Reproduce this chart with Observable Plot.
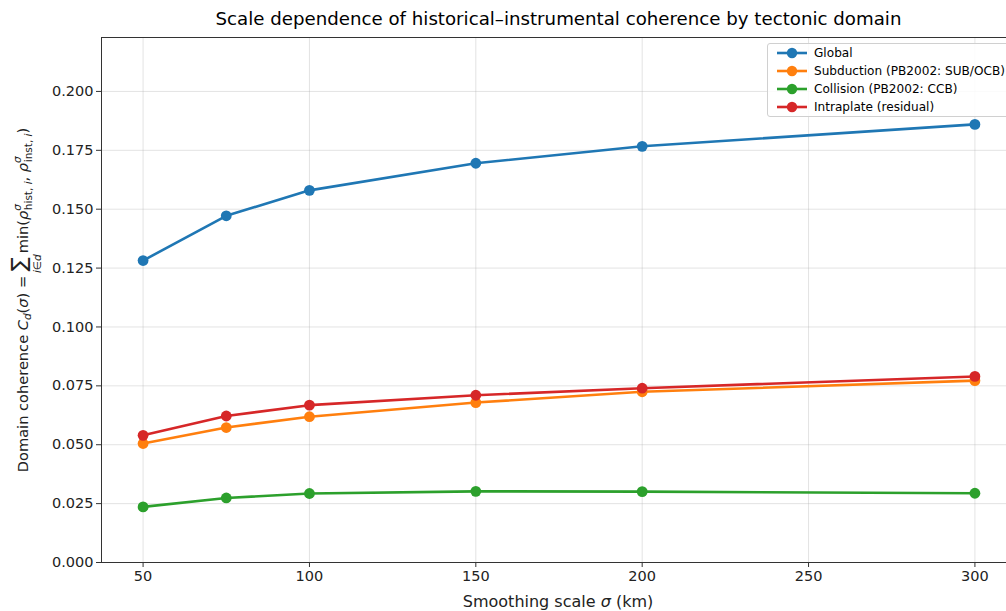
<!DOCTYPE html>
<html><head><meta charset="utf-8">
<script src="https://cdn.jsdelivr.net/npm/d3@7"></script>
<script src="https://cdn.jsdelivr.net/npm/@observablehq/plot@0.6"></script>
<style>
body{margin:0;overflow:hidden;background:#fff;font-family:"DejaVu Sans",sans-serif;}
#wrap{position:relative;width:1006px;height:611px;overflow:hidden;}
#chart svg{max-width:none !important;}
#title{position:absolute;left:101px;width:915px;top:8px;text-align:center;font-size:18.2px;color:#000;white-space:nowrap;}
#legend{position:absolute;left:767px;top:43px;width:260px;height:72px;border:1px solid #d0d0d0;border-radius:3px;background:rgba(255,255,255,0.85);font-size:12.1px;}
.li{position:absolute;left:8px;height:16px;display:flex;align-items:center;}
.li svg{margin-right:6px;}
</style></head>
<body><div id="wrap"><div id="chart"></div><div id="title">Scale dependence of historical–instrumental coherence by tectonic domain</div><div id="legend"></div></div>
<script>
const sigma = [50, 75, 100, 150, 200, 300];
const seriesNames = ["Global", "Subduction (PB2002: SUB/OCB)", "Collision (PB2002: CCB)", "Intraplate (residual)"];
const colors = ["#1f77b4", "#ff7f0e", "#2ca02c", "#d62728"];
const globalVals = [0.1282, 0.1472, 0.1580, 0.1695, 0.1767, 0.1860];
const subductionVals = [0.0505, 0.0573, 0.0619, 0.0679, 0.0725, 0.0772];
const collisionVals = [0.0236, 0.0274, 0.0293, 0.0302, 0.0301, 0.0294];
const intraplateVals = [0.0540, 0.0622, 0.0668, 0.0710, 0.0740, 0.0790];
const xTicks = [50, 100, 150, 200, 250, 300];
const yTicks = [0, 0.025, 0.05, 0.075, 0.1, 0.125, 0.15, 0.175, 0.2];

const allVals = [globalVals, subductionVals, collisionVals, intraplateVals];
const data = [];
seriesNames.forEach((s, i) => sigma.forEach((x, j) => data.push({series: s, x, y: allVals[i][j]})));

const marks = [
  Plot.gridX(xTicks, {stroke: "#b0b0b0", strokeOpacity: 0.35, strokeWidth: 1}),
  Plot.gridY(yTicks, {stroke: "#b0b0b0", strokeOpacity: 0.35, strokeWidth: 1}),
];
seriesNames.forEach(s => {
  const d = data.filter(r => r.series === s);
  marks.push(Plot.line(d, {x: "x", y: "y", stroke: "series", strokeWidth: 2.6}));
  marks.push(Plot.dot(d, {x: "x", y: "y", fill: "series", r: 5.4}));
});
marks.push(Plot.frame({stroke: "#333", strokeWidth: 1}));
marks.push(Plot.axisX(xTicks, {tickSize: 5, tickPadding: 3, fontSize: 14.5, label: null, stroke: "#333", fill: "#222"}));
marks.push(Plot.axisY(yTicks, {tickSize: 5, tickPadding: 3, fontSize: 14.5, tickFormat: d3.format(".3f"), label: null, stroke: "#333", fill: "#222"}));

const chart = Plot.plot({
  width: 1040, height: 611,
  marginLeft: 101, marginRight: 24, marginTop: 37, marginBottom: 49,
  style: {fontFamily: "DejaVu Sans, sans-serif", background: "white", overflow: "visible", maxWidth: "none"},
  x: {domain: [37.5, 312.5]},
  y: {domain: [0, 0.2229]},
  color: {domain: seriesNames, range: colors},
  marks
});
chart.style.maxWidth = "none";
document.getElementById("chart").appendChild(chart);

const svg = d3.select(chart);
// x label
svg.append("text").attr("x", 558).attr("y", 607).attr("text-anchor", "middle")
  .attr("font-size", 16).attr("fill", "#222")
  .html('Smoothing scale <tspan font-style="italic">σ</tspan> (km)');
// y label with math
const yl = svg.append("text").attr("transform", "translate(28,300) rotate(-90)")
  .attr("text-anchor", "middle").attr("font-size", 14.6).attr("fill", "#222");
yl.html('Domain coherence <tspan font-style="italic">C</tspan><tspan font-size="10.5" font-style="italic" dy="3">d</tspan><tspan dy="-3">(</tspan><tspan font-style="italic">σ</tspan>) = <tspan font-size="21" dy="-2">∑</tspan><tspan font-size="10.5" font-style="italic" dy="15" dx="-16">i∈d</tspan><tspan dy="-13" dx="1">min(</tspan><tspan font-style="italic">ρ</tspan><tspan font-size="10.5" font-style="italic" dy="-7">σ</tspan><tspan font-size="10.5" dy="11" dx="-6">hist, <tspan font-style="italic">i</tspan></tspan><tspan dy="-4">, </tspan><tspan font-style="italic">ρ</tspan><tspan font-size="10.5" font-style="italic" dy="-7">σ</tspan><tspan font-size="10.5" dy="11" dx="-6">inst, <tspan font-style="italic">i</tspan></tspan><tspan dy="-4">)</tspan>');

// legend
const lg = document.getElementById("legend");
seriesNames.forEach((s, i) => {
  const div = document.createElement("div");
  div.className = "li";
  div.style.top = (1 + i * 18) + "px";
  div.innerHTML = `<svg width="32" height="12"><line x1="1" y1="6" x2="31" y2="6" stroke="${colors[i]}" stroke-width="2.6"/><circle cx="16" cy="6" r="5.2" fill="${colors[i]}"/></svg><span>${s}</span>`;
  lg.appendChild(div);
});
</script></body></html>
